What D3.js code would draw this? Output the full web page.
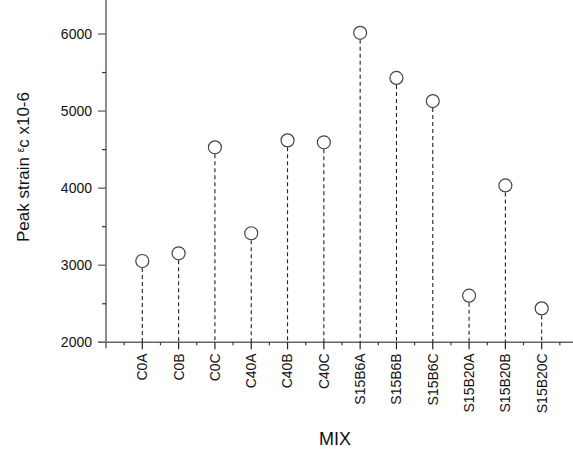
<!DOCTYPE html>
<html>
<head>
<meta charset="utf-8">
<script src="https://cdn.jsdelivr.net/npm/d3@7"></script>
<style>
  html, body { margin: 0; padding: 0; background: #fff; }
  svg { display: block; font-family: "Liberation Sans", Arial, sans-serif; }
</style>
</head>
<body>
<svg id="chart" width="573" height="457"></svg>
<script>
// Mix designations and their peak strain (x10^-6)
const mixes = ["C0A", "C0B", "C0C", "C40A", "C40B", "C40C",
               "S15B6A", "S15B6B", "S15B6C", "S15B20A", "S15B20B", "S15B20C"];
const peakStrain = [3055, 3155, 4530, 3415, 4620, 4595,
                    6015, 5430, 5130, 2605, 4035, 2440];
const yTicks = [2000, 3000, 4000, 5000, 6000];
const yMinorTicks = [2500, 3500, 4500, 5500, 6500];

const svg = d3.select("#chart");

// Scales: categories sit at integer positions 1..12 on a linear axis
const x = d3.scaleLinear().domain([0, 13]).range([106, 578]);
const y = d3.scaleLinear().domain([2000, 6000]).range([342.3, 34]);

const axisColor = "#666";

// y axis
const yAxis = svg.append("g").attr("transform", "translate(106,0)");
yAxis.append("line")
  .attr("x1", 0).attr("x2", 0)
  .attr("y1", -2).attr("y2", y(2000) + 6)
  .attr("stroke", axisColor).attr("stroke-width", 1.5);
yAxis.selectAll(".ymaj").data(yTicks).enter().append("line")
  .attr("x1", -8).attr("x2", 0)
  .attr("y1", d => y(d)).attr("y2", d => y(d))
  .attr("stroke", axisColor).attr("stroke-width", 1.3);
yAxis.selectAll(".ymin").data(yMinorTicks.filter(d => y(d) > 0)).enter().append("line")
  .attr("x1", -4).attr("x2", 0)
  .attr("y1", d => y(d)).attr("y2", d => y(d))
  .attr("stroke", "#333").attr("stroke-width", 1.2);
yAxis.selectAll(".ylab").data(yTicks).enter().append("text")
  .attr("x", -14).attr("y", d => y(d))
  .attr("dy", "0.35em")
  .attr("text-anchor", "end")
  .attr("font-size", 14)
  .attr("fill", "#111")
  .text(d => d);

// x axis
const xAxis = svg.append("g");
xAxis.append("line")
  .attr("x1", 98).attr("x2", 573)
  .attr("y1", y(2000)).attr("y2", y(2000))
  .attr("stroke", axisColor).attr("stroke-width", 1.5);
const halfSteps = d3.range(0.5, 13, 1);
xAxis.selectAll(".xmin").data(halfSteps).enter().append("line")
  .attr("x1", d => x(d)).attr("x2", d => x(d))
  .attr("y1", y(2000)).attr("y2", y(2000) + 3)
  .attr("stroke", "#333").attr("stroke-width", 1.2);
xAxis.selectAll(".xmaj").data(mixes).enter().append("line")
  .attr("x1", (d, i) => x(i + 1)).attr("x2", (d, i) => x(i + 1))
  .attr("y1", y(2000)).attr("y2", y(2000) + 7)
  .attr("stroke", "#222").attr("stroke-width", 1.2);
xAxis.selectAll(".xlab").data(mixes).enter().append("text")
  .attr("transform", (d, i) => `translate(${x(i + 1)},${y(2000) + 11}) rotate(-90)`)
  .attr("dy", "0.35em")
  .attr("text-anchor", "end")
  .attr("font-size", 14)
  .attr("fill", "#111")
  .text(d => d);

// drop lines and markers
const pts = svg.append("g");
pts.selectAll(".drop").data(peakStrain).enter().append("line")
  .attr("x1", (d, i) => x(i + 1)).attr("x2", (d, i) => x(i + 1))
  .attr("y1", d => y(d) + 7).attr("y2", y(2000))
  .attr("stroke", "#222").attr("stroke-width", 1.1)
  .attr("stroke-dasharray", "4,3");
pts.selectAll(".dot").data(peakStrain).enter().append("circle")
  .attr("cx", (d, i) => x(i + 1))
  .attr("cy", d => y(d))
  .attr("r", 6.5)
  .attr("fill", "#fff")
  .attr("stroke", "#444")
  .attr("stroke-width", 1.2);

// axis titles
const yTitle = svg.append("text")
  .attr("transform", "translate(29,167) rotate(-90)")
  .attr("text-anchor", "middle")
  .attr("font-size", 17)
  .attr("fill", "#111");
yTitle.append("tspan").text("Peak strain ");
yTitle.append("tspan").attr("font-size", 10).attr("dy", -5).text("ε");
yTitle.append("tspan").attr("dy", 5).text("c x10-6");

svg.append("text")
  .attr("x", 335).attr("y", 445)
  .attr("text-anchor", "middle")
  .attr("font-size", 18)
  .attr("fill", "#111")
  .text("MIX");
</script>
</body>
</html>
